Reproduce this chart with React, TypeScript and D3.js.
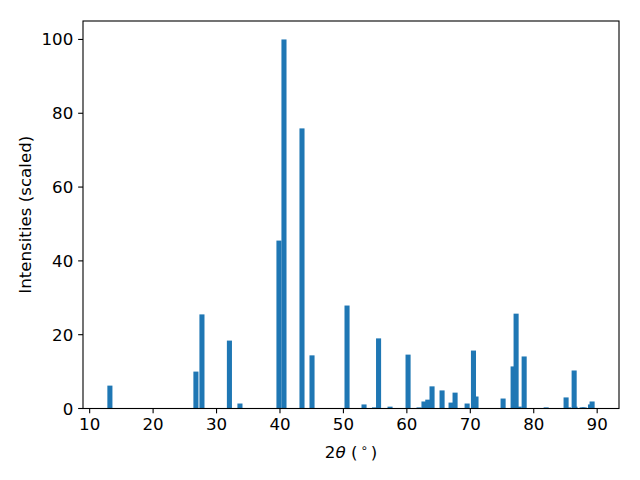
import React from 'react'
import * as d3 from 'd3'

// peak positions (2theta, degrees) and scaled intensities
const twoTheta = [
    13.19, 26.75, 27.7, 32.03, 33.69, 39.84, 40.63, 43.47, 45.05, 50.57,
    53.25, 54.9, 55.54, 57.35, 60.19, 61.92, 62.7, 63.3, 63.97, 65.55,
    66.97, 67.6, 69.5, 70.5, 70.9, 75.17, 76.75, 77.22, 77.71, 78.49,
    81.96, 85.1, 85.5, 86.37, 86.5, 87.63, 87.95, 88.95, 89.2
]
const intensity = [
    6.2, 10.0, 25.5, 18.4, 1.35, 45.5, 100, 75.9, 14.4, 27.9,
    1.1, 0.3, 19.0, 0.5, 14.6, 0.3, 1.9, 2.4, 6.0, 4.9,
    1.6, 4.3, 1.35, 15.7, 3.25, 2.7, 11.4, 25.7, 0.5, 14.1,
    0.3, 3.0, 0.3, 10.3, 0.5, 0.3, 0.3, 1.1, 1.9
]
const xTicks = [10, 20, 30, 40, 50, 60, 70, 80, 90]
const yTicks = [0, 20, 40, 60, 80, 100]

const W = 640
const H = 480
const left = 83
const right = 619
const top = 21
const bottom = 408.5
const barWidth = 0.8
const font = 'DejaVu Sans, sans-serif'
const fs = 16.67
const tickLen = 4.86

export default function App() {
    // matplotlib-like autoscale: bar edges + 5% margin on x, 5% on top of y
    const lo = d3.min(twoTheta) - barWidth / 2
    const hi = d3.max(twoTheta) + barWidth / 2
    const pad = (hi - lo) * 0.05
    const x = d3.scaleLinear().domain([lo - pad, hi + pad]).range([left, right])
    const y = d3.scaleLinear().domain([0, d3.max(intensity) * 1.05]).range([bottom, top])

    const bars = twoTheta.map((t, i) => ({ t, v: intensity[i] }))

    return (
        <svg width={W} height={H} style={{ position: 'absolute', left: 0, top: 0, background: '#fff' }}
            fontFamily={font}>
            <rect width={W} height={H} fill="#fff" />
            <g>
                {bars.map((d, i) => (
                    <rect key={i}
                        x={x(d.t - barWidth / 2)}
                        width={x(d.t + barWidth / 2) - x(d.t - barWidth / 2)}
                        y={y(d.v)}
                        height={y(0) - y(d.v)}
                        fill="#1f77b4" />
                ))}
            </g>
            {/* axes frame */}
            <rect x={left} y={top} width={right - left} height={bottom - top}
                fill="none" stroke="#000" strokeWidth={1.1} />
            {xTicks.map(t => (
                <g key={t} transform={`translate(${x(t)},${bottom})`}>
                    <line y1={0} y2={tickLen} stroke="#000" strokeWidth={1.1} />
                    <text y={tickLen + 4.86 + 12.2} textAnchor="middle" fontSize={fs}>{t}</text>
                </g>
            ))}
            {yTicks.map(t => (
                <g key={t} transform={`translate(${left},${y(t)})`}>
                    <line x1={0} x2={-tickLen} stroke="#000" strokeWidth={1.1} />
                    <text x={-tickLen - 4.86} dy="0.36em" textAnchor="end" fontSize={fs}>{t}</text>
                </g>
            ))}
            <text transform={`translate(30.5,${(top + bottom) / 2}) rotate(-90)`}
                textAnchor="middle" fontSize={fs}>Intensities (scaled)</text>
            <text x={(left + right) / 2} y={458} textAnchor="middle" fontSize={fs}>
                2<tspan fontStyle="italic">θ</tspan> (<tspan fontSize={11.7} dx={3} dy={-6}>∘</tspan><tspan dx={3} dy={6}>)</tspan>
            </text>
        </svg>
    )
}
